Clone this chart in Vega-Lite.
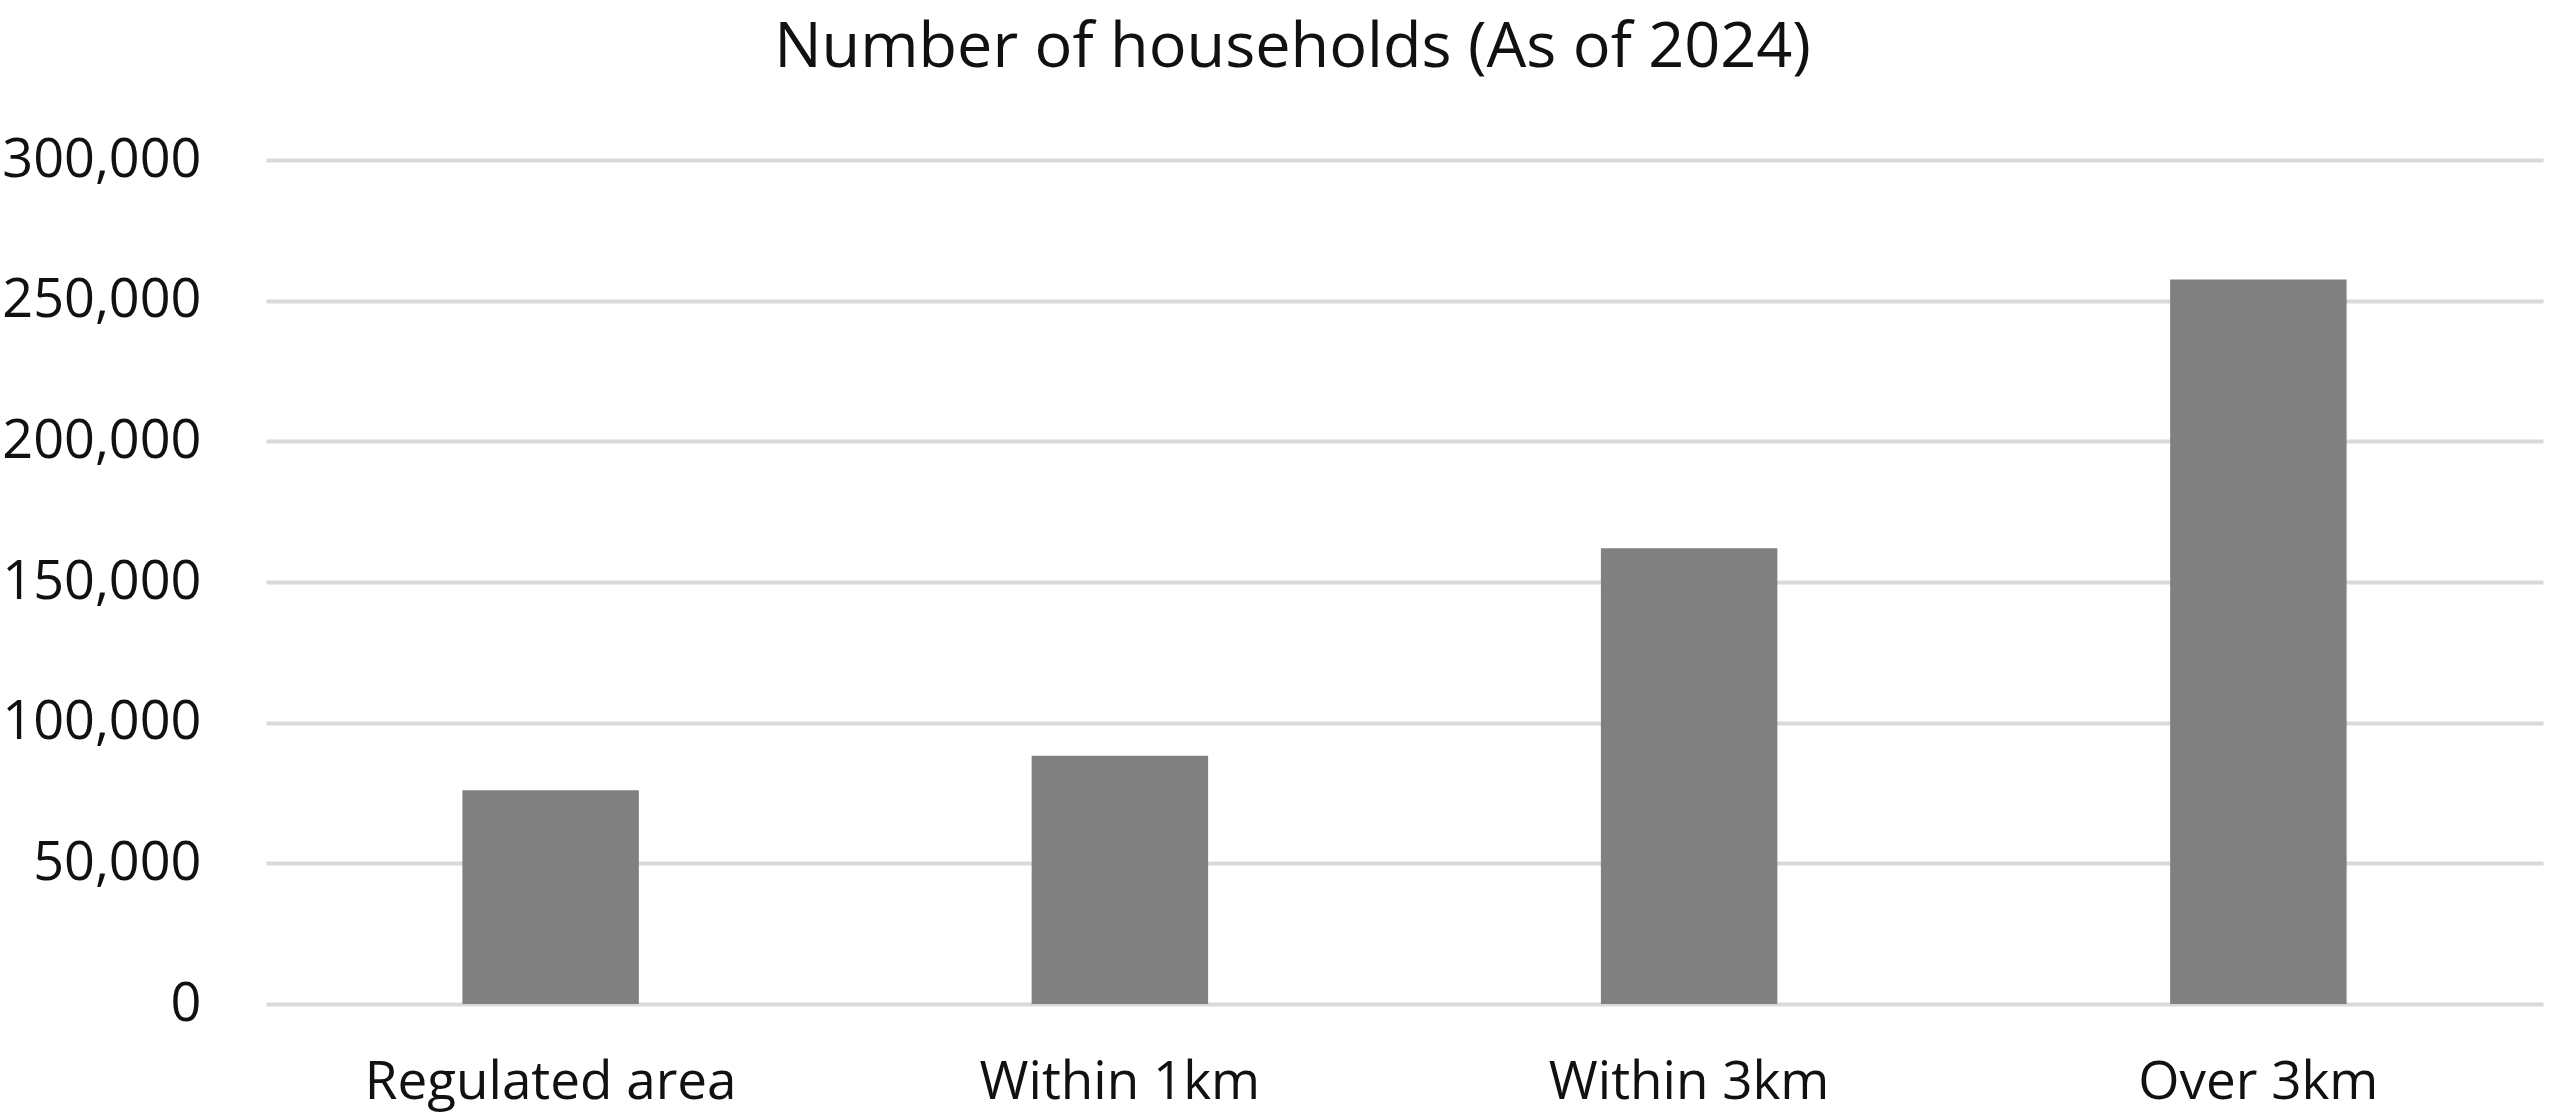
{
  "$schema": "https://vega.github.io/schema/vega-lite/v6.json",
  "width": 2277,
  "height": 844,
  "autosize": {"type": "none"},
  "padding": {"left": 266, "top": 160, "right": 21, "bottom": 115},
  "background": "white",
  "title": {
    "text": "Number of households (As of 2024)",
    "font": "Open Sans",
    "fontSize": 63,
    "fontWeight": "normal",
    "color": "#111111",
    "anchor": "middle",
    "dx": -112,
    "offset": 53,
    "limit": 0
  },
  "data": {
    "values": [
      {"category": "Regulated area", "households": 76000},
      {"category": "Within 1km", "households": 88200},
      {"category": "Within 3km", "households": 162000},
      {"category": "Over 3km", "households": 257500}
    ]
  },
  "mark": {"type": "bar", "color": "#808080"},
  "encoding": {
    "x": {
      "field": "category",
      "type": "nominal",
      "sort": null,
      "scale": {"paddingInner": 0.69, "paddingOuter": 0.345},
      "axis": {
        "title": null,
        "labelAngle": 0,
        "labelFont": "Open Sans",
        "labelFontSize": 53,
        "labelColor": "#111111",
        "labelPadding": 52,
        "labelLimit": 0,
        "ticks": false,
        "domain": false,
        "grid": false
      }
    },
    "y": {
      "field": "households",
      "type": "quantitative",
      "scale": {"domain": [0, 300000]},
      "axis": {
        "title": null,
        "values": [0, 50000, 100000, 150000, 200000, 250000, 300000],
        "format": ",d",
        "labelFont": "Open Sans",
        "labelFontSize": 54,
        "labelColor": "#111111",
        "labelPadding": 65,
        "labelLimit": 0,
        "ticks": false,
        "domain": false,
        "grid": true,
        "gridColor": "#d9d9d9",
        "gridWidth": 4
      }
    }
  },
  "config": {"view": {"stroke": null}}
}
